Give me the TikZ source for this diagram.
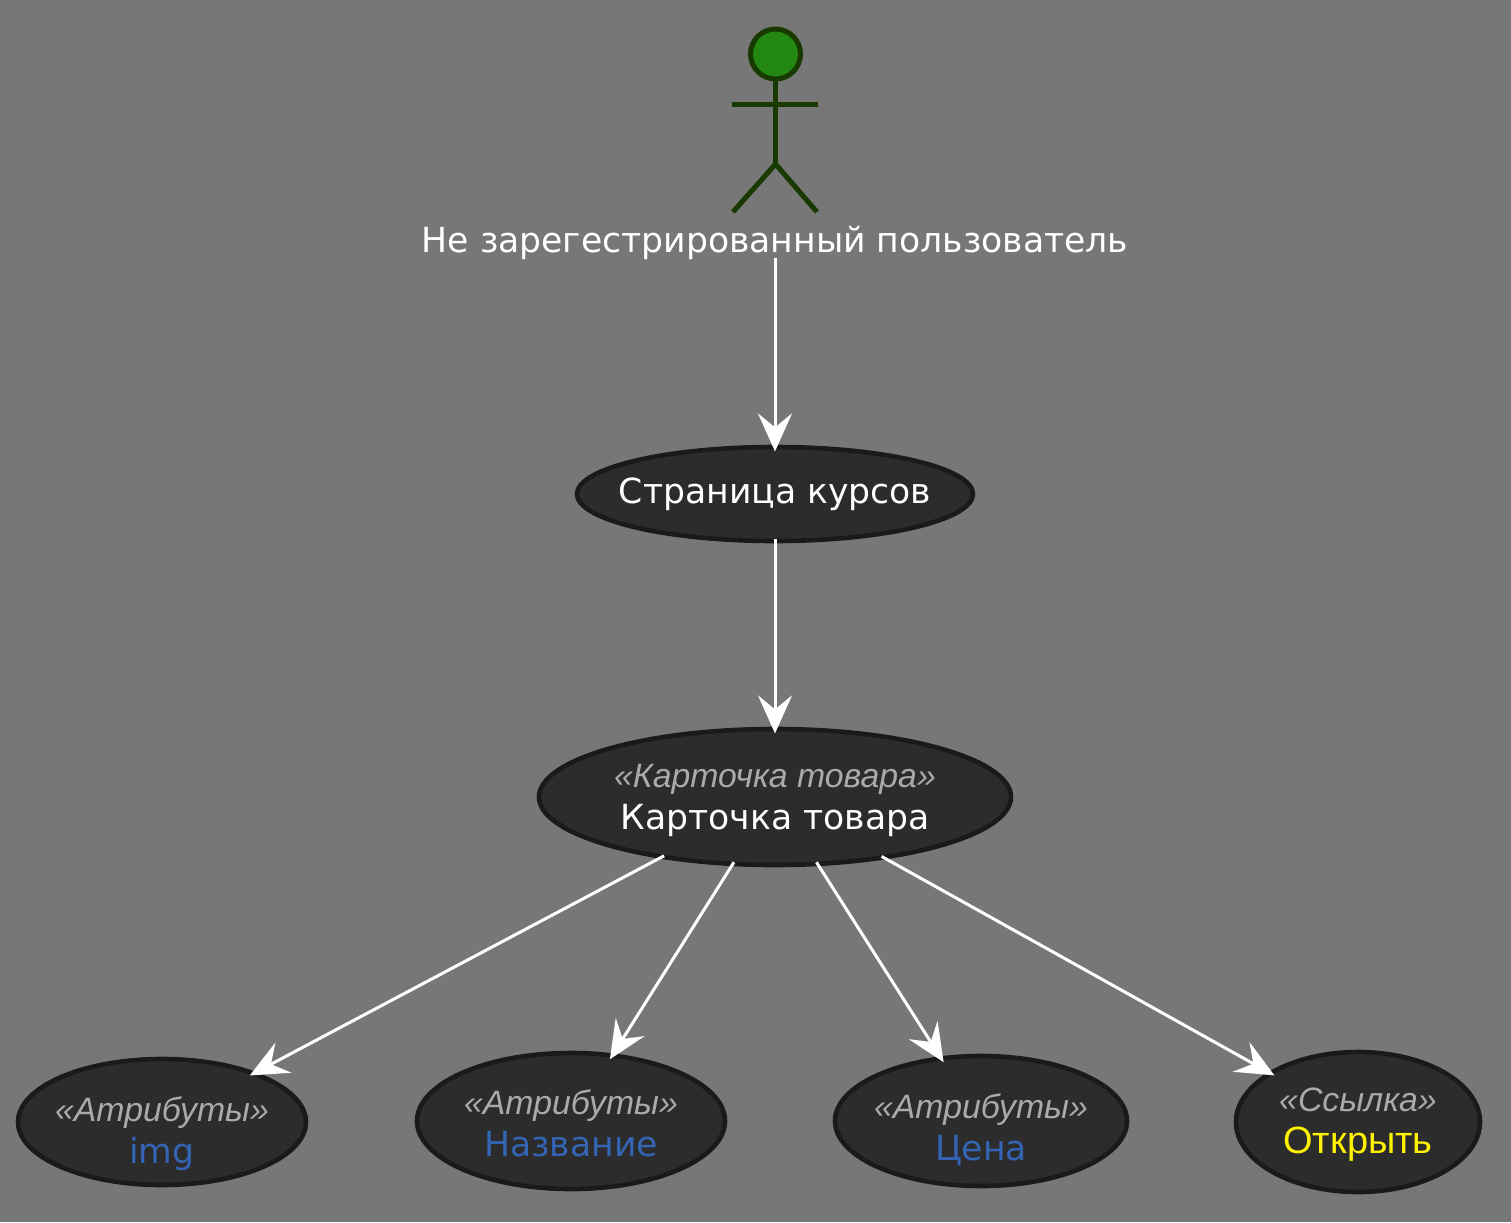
\documentclass[tikz,border=0pt]{standalone}
\usepackage{fontspec}
\setmainfont{DejaVu Sans}
\newfontfamily\stereofont{Liberation Sans}
\usetikzlibrary{shapes.geometric, arrows.meta}
\definecolor{bggray}{HTML}{777777}
\definecolor{ucfill}{HTML}{2C2C2C}
\definecolor{ucline}{HTML}{1A1A1A}
\definecolor{actfill}{HTML}{228811}
\definecolor{actline}{HTML}{183A00}
\definecolor{stereogray}{HTML}{AAAAAA}
\definecolor{attrblue}{HTML}{3465B5}
\newcommand{\stereo}[1]{{\stereofont\itshape\fontsize{16.9}{21}\selectfont\color{stereogray}«#1»}}
\newcommand{\ucbox}[2]{\raisebox{#1}[0pt][0pt]{\makebox[0pt]{\begin{tabular}[c]{@{}c@{}}#2\end{tabular}}}}
\tikzset{
	usecase/.style={ellipse, draw=ucline, fill=ucfill, line width=2.3pt, inner sep=0pt, outer sep=0pt, text=white, font=\fontsize{17.3}{21}\selectfont},
	flow/.style={white, line width=1.5pt, -{Stealth[length=19pt,width=17pt,inset=7pt]}, shorten >=-2.2pt, shorten <=-1pt},
	actorline/.style={draw=actline, line width=2.5pt},
}
\begin{document}
\begin{tikzpicture}[x=0.5pt,y=-0.5pt]
\useasboundingbox (0,0) rectangle (1511,1222);
	\fill[bggray] (0,0) rectangle (1511,1222);
%actor
	\draw[actorline, fill=actfill] (775.5,54) circle (12.5pt);
	\draw[actorline] (775.5,80)-- (775.5,164);
	\draw[actorline] (732,104)-- (818,104);
	\draw[actorline] (775.5,164)-- (733,212);
	\draw[actorline] (775.5,164)-- (817,212);
	\node[text=white, inner sep=0pt, font=\fontsize{17.3}{21}\selectfont, minimum height=17pt] (actorlabel) at (775,243) {Не зарегестрированный пользователь};
%use cases
	\node[usecase, minimum width=198pt, minimum height=47pt] (courses) at (775,494) {\ucbox{-5pt}{Страница курсов}};
	\node[usecase, minimum width=236pt, minimum height=68pt] (card) at (775,797) {\ucbox{-6.1pt}{\stereo{Карточка товара}\\Карточка товара}};
	\node[usecase, minimum width=144pt, minimum height=63pt] (img) at (162,1122) {\ucbox{-10.6pt}{\stereo{Атрибуты}\\\textcolor{attrblue}{img}}};
	\node[usecase, minimum width=154pt, minimum height=68pt] (title) at (571,1121) {\ucbox{-7.6pt}{\stereo{Атрибуты}\\\textcolor{attrblue}{Название}}};
	\node[usecase, minimum width=146pt, minimum height=65pt] (price) at (981,1121) {\ucbox{-9.6pt}{\stereo{Атрибуты}\\\textcolor{attrblue}{Цена}}};
	\node[usecase, minimum width=122pt, minimum height=70pt] (link) at (1358,1122) {\ucbox{-5.6pt}{\stereo{Ссылка}\\\textcolor{yellow}{\stereofont\fontsize{19}{21}\selectfont Открыть}}};
%arrows
	\draw[flow] (actorlabel) -- (courses);
	\draw[flow] (courses) -- (card);
	\draw[flow] (card) -- (img);
	\draw[flow] (card) -- (title);
	\draw[flow] (card) -- (price);
	\draw[flow] (card) -- (link);
\end{tikzpicture}
\end{document}
